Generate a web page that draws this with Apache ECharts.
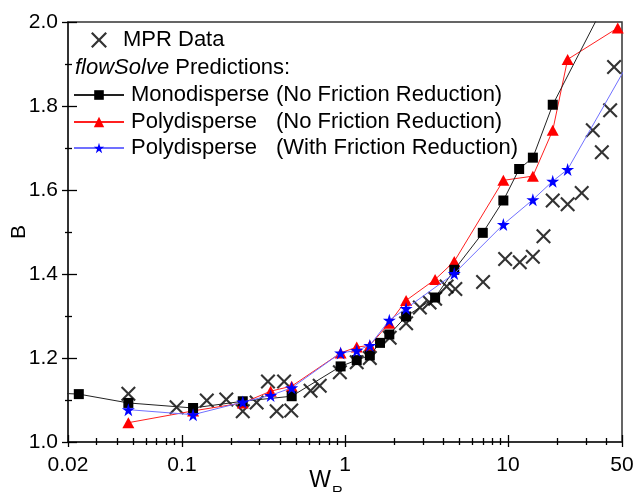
<!DOCTYPE html>
<html>
<head>
<meta charset="utf-8">
<script src="https://cdn.jsdelivr.net/npm/echarts@6/dist/echarts.min.js"></script>
<style>
  html, body { margin: 0; padding: 0; background: #fff; }
  #main { width: 635px; height: 492px; }
</style>
</head>
<body>
<div id="main"></div>
<script>
// MPR measurements
var mprX = [0.0469, 0.0927, 0.142, 0.187, 0.236, 0.287, 0.337, 0.381, 0.423, 0.468, 0.615, 0.70, 0.93, 1.18, 1.42, 1.88, 2.37, 2.88, 3.3, 3.57, 4.2, 4.75, 7.03, 9.6, 11.8, 14.2, 16.5, 18.8, 23.2, 28.3, 33.1, 37.6, 42.3, 44.7];
var mprY = [1.115, 1.083, 1.099, 1.101, 1.073, 1.094, 1.144, 1.073, 1.144, 1.075, 1.122, 1.134, 1.166, 1.19, 1.2, 1.248, 1.283, 1.32, 1.332, 1.341, 1.37, 1.364, 1.381, 1.436, 1.428, 1.441, 1.49, 1.575, 1.566, 1.593, 1.742, 1.69, 1.79, 1.893];

// flowSolve predictions
var monoX = [0.016, 0.0233, 0.0469, 0.117, 0.236, 0.471, 0.94, 1.18, 1.42, 1.64, 1.87, 2.37, 3.57, 4.68, 7.0, 9.36, 11.7, 14.2, 18.8, 40];
var monoY = [1.117, 1.114, 1.093, 1.081, 1.097, 1.109, 1.180, 1.195, 1.206, 1.236, 1.256, 1.299, 1.344, 1.41, 1.498, 1.575, 1.650, 1.677, 1.803, 2.05];
var polyX = [0.0469, 0.117, 0.236, 0.35, 0.471, 0.94, 1.18, 1.42, 1.87, 2.37, 3.57, 4.68, 9.36, 14.2, 18.8, 23.2, 47.1];
var polyY = [1.046, 1.074, 1.093, 1.121, 1.133, 1.212, 1.226, 1.230, 1.283, 1.337, 1.387, 1.430, 1.623, 1.633, 1.742, 1.911, 1.986];
var polyFrX = [0.0469, 0.117, 0.236, 0.35, 0.471, 0.94, 1.18, 1.42, 1.87, 2.37, 4.68, 9.36, 14.2, 18.8, 23.2, 60];
var polyFrY = [1.077, 1.065, 1.095, 1.111, 1.129, 1.212, 1.218, 1.230, 1.290, 1.318, 1.401, 1.518, 1.577, 1.621, 1.649, 1.93];

var seriesNames = ['MPR Data', 'Monodisperse (No Friction Reduction)', 'Polydisperse (No Friction Reduction)', 'Polydisperse (With Friction Reduction)'];

// axis ticks
var xLabels = [0.02, 0.1, 1, 10, 50];
var xMinor = [0.03, 0.04, 0.05, 0.06, 0.07, 0.08, 0.09, 0.2, 0.3, 0.4, 0.5, 0.6, 0.7, 0.8, 0.9, 2, 3, 4, 5, 6, 7, 8, 9, 20, 30, 40];

var FONT = 'Liberation Sans, Arial, sans-serif';
var crossSymbol = 'path://M0,10L10,0L50,40L90,0L100,10L60,50L100,90L90,100L50,60L10,100L0,90L40,50Z';
var starSymbol = 'path://M50,0L61,35L98,35L68,57L79,91L50,70L21,91L32,57L2,35L39,35Z';

function zip(xs, ys) {
  var out = [];
  for (var i = 0; i < xs.length; i++) out.push([xs[i], ys[i]]);
  return out;
}

function xAxisPart(ticks, len, inside, extra) {
  var a = {
    type: 'log', logBase: 10, min: 0.02, max: 50, position: 'bottom',
    axisLine: { show: false },
    axisLabel: { show: false },
    splitLine: { show: false },
    axisTick: { show: true, customValues: ticks, length: len, inside: inside,
      lineStyle: { color: '#000', width: 1.3 } }
  };
  for (var k in extra) a[k] = extra[k];
  return a;
}

var chart = echarts.init(document.getElementById('main'), null, { renderer: 'canvas' });

function legendRow(name, left, centerY, w, h, pad) {
  return {
    data: [name], left: left, top: centerY - 12, orient: 'vertical',
    selectedMode: false, itemWidth: w, itemHeight: h, padding: 0,
    formatter: function (n) {
      var i = n.indexOf(' (');
      if (i < 0) return '{a|' + n + '}';
      return '{a|' + n.slice(0, i) + '}{b|' + n.slice(i + 1) + '}';
    },
    textStyle: {
      fontSize: 22, fontFamily: FONT, color: '#000', lineHeight: 24, padding: [0, 0, 0, pad],
      rich: {
        a: { fontSize: 22, fontFamily: FONT, color: '#000', width: 145 },
        b: { fontSize: 22, fontFamily: FONT, color: '#000' }
      }
    }
  };
}

var option = {
  backgroundColor: '#ffffff',
  animation: false,
  grid: { left: 68, right: 13, top: 22, bottom: 50, show: true, borderColor: '#333', borderWidth: 1.5,
    outerBoundsMode: 'none', containLabel: false },
  legend: [
    (function () { var l = legendRow(seriesNames[0], 91, 40, 16, 16, 11); l.formatter = '{a|{name}}'; return l; })(),
    legendRow(seriesNames[1], 73, 95, 50, 12, 2),
    legendRow(seriesNames[2], 73, 122, 50, 13, 2),
    legendRow(seriesNames[3], 73, 148, 50, 13, 2)
  ],
  graphic: [{
    type: 'text', left: 75, top: 56,
    style: {
      text: '{i|flowSolve} Predictions:',
      fontSize: 22, fontFamily: FONT, fill: '#000', lineHeight: 24,
      rich: { i: { fontStyle: 'italic', fontSize: 22, fontFamily: FONT, fill: '#000' } }
    }
  }],
  xAxis: [
    xAxisPart(xLabels, 5, false, {
      axisLine: { show: true, lineStyle: { color: '#222', width: 1.5 } },
      axisLabel: {
        show: true, customValues: xLabels, fontSize: 21, fontFamily: FONT, color: '#000', margin: 13,
        formatter: function (v) { return String(+(+v).toPrecision(3)); }
      },
      name: '{w|W}{r|R}', nameLocation: 'middle', nameGap: 27, nameMoveOverlap: false,
      nameTextStyle: {
        padding: [0, 38, 0, 0],
        rich: {
          w: { fontSize: 23, fontFamily: FONT, color: '#000', lineHeight: 24 },
          r: { fontSize: 15, fontFamily: FONT, color: '#000', lineHeight: 24, padding: [22, 0, 0, 1] }
        }
      }
    }),
    xAxisPart(xLabels, 7, true, {}),
    xAxisPart(xMinor, 3, false, {}),
    xAxisPart(xMinor, 4, true, {})
  ],
  yAxis: [
    {
      type: 'value', min: 1, max: 2, interval: 0.2, position: 'left',
      axisLine: { show: true, lineStyle: { color: '#222', width: 1.5 } },
      axisTick: { show: true, length: 6, inside: false, lineStyle: { color: '#000', width: 1.3 } },
      minorTick: { show: true, splitNumber: 2, length: 3, lineStyle: { color: '#000', width: 1.3 } },
      splitLine: { show: false },
      axisLabel: { fontSize: 21, fontFamily: FONT, color: '#000', margin: 10,
        formatter: function (v) { return v.toFixed(1); } },
      name: 'B', nameLocation: 'middle', nameGap: 38, nameRotate: 90, nameMoveOverlap: false,
      nameTextStyle: { fontSize: 21, fontFamily: FONT, color: '#000' }
    },
    {
      type: 'value', min: 1, max: 2, interval: 0.2, position: 'left',
      axisLine: { show: false },
      axisTick: { show: true, length: 9, inside: true, lineStyle: { color: '#000', width: 1.3 } },
      minorTick: { show: true, splitNumber: 2, length: 4, lineStyle: { color: '#000', width: 1.3 } },
      splitLine: { show: false },
      axisLabel: { show: false }
    }
  ],
  series: [
    {
      name: seriesNames[0], type: 'scatter', data: zip(mprX, mprY),
      symbol: crossSymbol, symbolSize: 15, itemStyle: { color: '#000' }, z: 2
    },
    {
      name: seriesNames[2], type: 'line', data: zip(polyX, polyY),
      symbol: 'triangle', symbolSize: [12, 11], showAllSymbol: true,
      itemStyle: { color: '#ff0000' }, lineStyle: { color: '#ff2020', width: 1 }, z: 3
    },
    {
      name: seriesNames[1], type: 'line', data: zip(monoX, monoY),
      symbol: 'rect', symbolSize: 10, showAllSymbol: true,
      itemStyle: { color: '#000' }, lineStyle: { color: '#222', width: 1 }, z: 4
    },
    {
      name: seriesNames[3], type: 'line', data: zip(polyFrX, polyFrY),
      symbol: starSymbol, symbolSize: 13, showAllSymbol: true,
      itemStyle: { color: '#0000ff' }, lineStyle: { color: '#7070ff', width: 1 }, z: 5
    }
  ]
};

chart.setOption(option);
</script>
</body>
</html>
